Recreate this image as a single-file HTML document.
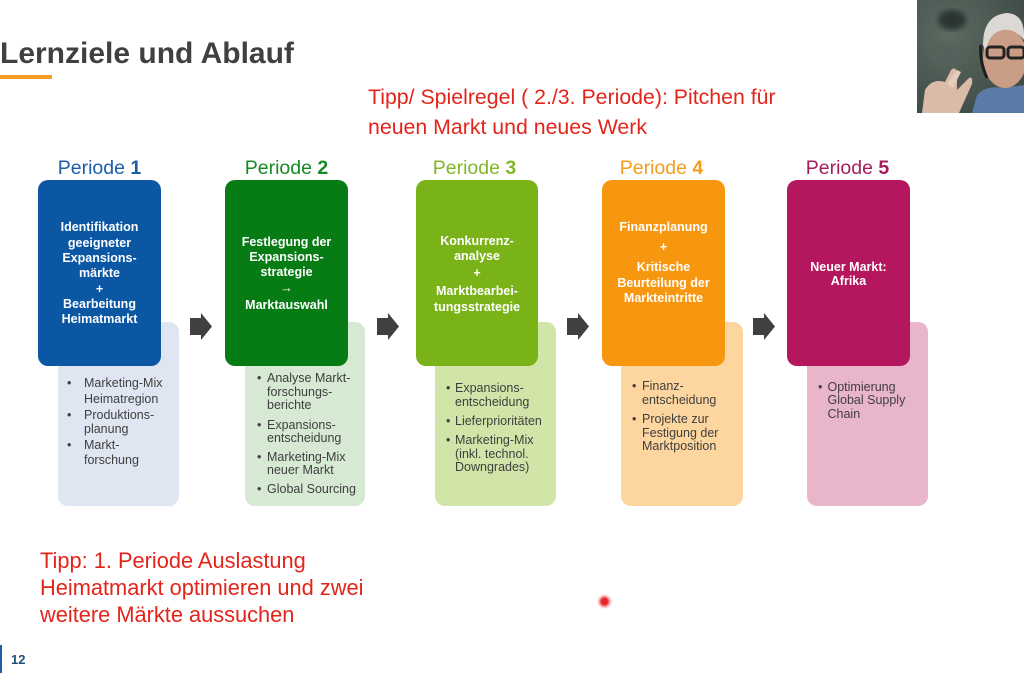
<!DOCTYPE html>
<html><head><meta charset="utf-8">
<style>
*{margin:0;padding:0;box-sizing:border-box}
html,body{width:1024px;height:683px;background:#fff;overflow:hidden}
body{position:relative;font-family:"Liberation Sans",Arial,sans-serif}
.a{position:absolute}
.box{position:absolute;border-radius:10px}
.ph{position:absolute;font-size:19.5px;line-height:22px;text-align:center;white-space:nowrap}
.ph b{font-weight:bold}
.m{position:absolute;height:16px;line-height:16px;text-align:center;color:#fff;font-weight:bold;font-size:12.5px;white-space:nowrap}
.l{position:absolute;height:16px;line-height:16px;color:#3f3f3f;font-size:12.5px;white-space:nowrap}
.red{position:absolute;color:#e3241b;white-space:nowrap}
</style></head><body>

<!-- Title -->
<div class="a" style="left:0;top:37px;font-size:30px;font-weight:bold;color:#404040;line-height:34px;white-space:nowrap">Lernziele und Ablauf</div>
<div class="a" style="left:0;top:75px;width:52px;height:4px;background:#f39c1f"></div>

<!-- Top tip -->
<div class="red" style="left:368px;top:82px;font-size:21.3px;line-height:30px">Tipp/ Spielregel ( 2./3. Periode): Pitchen für<br>neuen Markt und neues Werk</div>

<!-- Webcam -->
<svg class="a" style="left:917px;top:0" width="107" height="113" viewBox="0 0 107 113">
<defs>
<radialGradient id="bg" cx="0.3" cy="0.3" r="0.9"><stop offset="0" stop-color="#5d6a62"/><stop offset="0.6" stop-color="#48554f"/><stop offset="1" stop-color="#3a4642"/></radialGradient>
<filter id="bl"><feGaussianBlur stdDeviation="3"/></filter>
</defs>
<rect width="107" height="113" fill="url(#bg)"/>
<ellipse cx="35" cy="20" rx="14" ry="10" fill="#2c3430" filter="url(#bl)"/>
<ellipse cx="30" cy="55" rx="16" ry="12" fill="#55625c" filter="url(#bl)"/>
<path d="M55 113 L60 95 Q70 85 85 88 L107 85 L107 113 Z" fill="#5a7ba6"/>
<ellipse cx="88" cy="58" rx="22" ry="30" fill="#c99d86"/>
<path d="M66 45 Q66 15 90 13 Q107 14 107 35 L107 40 Q95 25 80 32 Q70 38 69 52 Z" fill="#dcd8d3"/>
<rect x="70" y="47" width="17" height="11" rx="3" fill="none" stroke="#222" stroke-width="3"/>
<rect x="91" y="47" width="16" height="11" rx="3" fill="none" stroke="#222" stroke-width="3"/>
<path d="M64 45 Q62 60 70 78" stroke="#1d1d1d" stroke-width="3" fill="none"/>
<path d="M5 113 L8 90 Q15 78 28 82 L34 70 Q38 66 40 72 L40 90 L52 78 Q56 76 55 84 L42 113 Z" fill="#d9bba8"/>
<path d="M30 84 L40 70 L44 72 L36 88 Z" fill="#e6cdbd"/>
</svg>

<!-- Period headers -->
<div class="ph" style="left:38px;width:123px;top:157px;color:#1d5ea8">Periode <b>1</b></div>
<div class="ph" style="left:225px;width:123px;top:157px;color:#168a26">Periode <b>2</b></div>
<div class="ph" style="left:413px;width:123px;top:157px;color:#82b72b">Periode <b>3</b></div>
<div class="ph" style="left:600px;width:123px;top:157px;color:#f59c1d">Periode <b>4</b></div>
<div class="ph" style="left:786px;width:123px;top:157px;color:#a81c5b">Periode <b>5</b></div>

<!-- Light boxes -->
<div class="box" style="left:58px;top:322px;width:121px;height:184px;background:#dfe6f2"></div>
<div class="box" style="left:245px;top:322px;width:120px;height:184px;background:#d5e9d3"></div>
<div class="box" style="left:435px;top:322px;width:121px;height:184px;background:#d2e5a8"></div>
<div class="box" style="left:621px;top:322px;width:122px;height:184px;background:#fdd59e"></div>
<div class="box" style="left:807px;top:322px;width:121px;height:184px;background:#e8b5ca"></div>

<!-- Main boxes -->
<div class="box" style="left:38px;top:180px;width:123px;height:186px;background:#0b57a4"></div>
<div class="box" style="left:225px;top:180px;width:123px;height:186px;background:#077c14"></div>
<div class="box" style="left:416px;top:180px;width:122px;height:186px;background:#7ab317"></div>
<div class="box" style="left:602px;top:180px;width:123px;height:186px;background:#f7960f"></div>
<div class="box" style="left:787px;top:180px;width:123px;height:186px;background:#b4175d"></div>

<!-- Arrows -->
<svg class="a" style="left:0;top:0" width="1024" height="683">
<g fill="#404040">
<polygon points="190,318 201,318 201,313 212,326.5 201,340 201,335 190,335"/>
<polygon points="377,318 388,318 388,313 399,326.5 388,340 388,335 377,335"/>
<polygon points="567,318 578,318 578,313 589,326.5 578,340 578,335 567,335"/>
<polygon points="753,318 764,318 764,313 775,326.5 764,340 764,335 753,335"/>
</g>
</svg>

<!-- P1 main text -->
<div class="m" style="left:38px;width:123px;top:219px">Identifikation</div>
<div class="m" style="left:38px;width:123px;top:234.5px">geeigneter</div>
<div class="m" style="left:38px;width:123px;top:250px">Expansions-</div>
<div class="m" style="left:38px;width:123px;top:265px">märkte</div>
<div class="m" style="left:38px;width:123px;top:280.5px">+</div>
<div class="m" style="left:38px;width:123px;top:296px">Bearbeitung</div>
<div class="m" style="left:38px;width:123px;top:310.5px">Heimatmarkt</div>

<!-- P2 main text -->
<div class="m" style="left:225px;width:123px;top:233.5px">Festlegung der</div>
<div class="m" style="left:225px;width:123px;top:249px">Expansions-</div>
<div class="m" style="left:225px;width:123px;top:264px">strategie</div>
<div class="m" style="left:225px;width:123px;top:280px">→</div>
<div class="m" style="left:225px;width:123px;top:297px">Marktauswahl</div>

<!-- P3 main text -->
<div class="m" style="left:416px;width:122px;top:232.5px">Konkurrenz-</div>
<div class="m" style="left:416px;width:122px;top:248px">analyse</div>
<div class="m" style="left:416px;width:122px;top:265px">+</div>
<div class="m" style="left:416px;width:122px;top:282.5px">Marktbearbei-</div>
<div class="m" style="left:416px;width:122px;top:298.5px">tungsstrategie</div>

<!-- P4 main text -->
<div class="m" style="left:602px;width:123px;top:219px">Finanzplanung</div>
<div class="m" style="left:602px;width:123px;top:239px">+</div>
<div class="m" style="left:602px;width:123px;top:259px">Kritische</div>
<div class="m" style="left:602px;width:123px;top:274.5px">Beurteilung der</div>
<div class="m" style="left:602px;width:123px;top:289.5px">Markteintritte</div>

<!-- P5 main text -->
<div class="m" style="left:787px;width:123px;top:258.5px">Neuer Markt:</div>
<div class="m" style="left:787px;width:123px;top:273px">Afrika</div>

<!-- P1 light text -->
<div class="l" style="left:67px;top:375px">•</div>
<div class="l" style="left:84px;top:375px">Marketing-Mix</div>
<div class="l" style="left:84px;top:391px">Heimatregion</div>
<div class="l" style="left:67px;top:407px">•</div>
<div class="l" style="left:84px;top:407px">Produktions-</div>
<div class="l" style="left:84px;top:421px">planung</div>
<div class="l" style="left:67px;top:437px">•</div>
<div class="l" style="left:84px;top:437px">Markt-</div>
<div class="l" style="left:84px;top:452px">forschung</div>

<!-- P2 light text -->
<div class="l" style="left:257px;top:370px">•</div>
<div class="l" style="left:267px;top:370px">Analyse Markt-</div>
<div class="l" style="left:267px;top:383.5px">forschungs-</div>
<div class="l" style="left:267px;top:397px">berichte</div>
<div class="l" style="left:257px;top:417px">•</div>
<div class="l" style="left:267px;top:417px">Expansions-</div>
<div class="l" style="left:267px;top:430px">entscheidung</div>
<div class="l" style="left:257px;top:448.5px">•</div>
<div class="l" style="left:267px;top:448.5px">Marketing-Mix</div>
<div class="l" style="left:267px;top:461.5px">neuer Markt</div>
<div class="l" style="left:257px;top:480.5px">•</div>
<div class="l" style="left:267px;top:480.5px">Global Sourcing</div>

<!-- P3 light text -->
<div class="l" style="left:446px;top:380px">•</div>
<div class="l" style="left:455px;top:380px">Expansions-</div>
<div class="l" style="left:455px;top:393.5px">entscheidung</div>
<div class="l" style="left:446px;top:413px">•</div>
<div class="l" style="left:455px;top:413px">Lieferprioritäten</div>
<div class="l" style="left:446px;top:432px">•</div>
<div class="l" style="left:455px;top:432px">Marketing-Mix</div>
<div class="l" style="left:455px;top:446px">(inkl. technol.</div>
<div class="l" style="left:455px;top:459px">Downgrades)</div>

<!-- P4 light text -->
<div class="l" style="left:632px;top:378px">•</div>
<div class="l" style="left:642px;top:378px">Finanz-</div>
<div class="l" style="left:642px;top:391.5px">entscheidung</div>
<div class="l" style="left:632px;top:410.5px">•</div>
<div class="l" style="left:642px;top:410.5px">Projekte zur</div>
<div class="l" style="left:642px;top:424.5px">Festigung der</div>
<div class="l" style="left:642px;top:438px">Marktposition</div>

<!-- P5 light text -->
<div class="l" style="left:818px;top:378.5px">•</div>
<div class="l" style="left:827.5px;top:378.5px">Optimierung</div>
<div class="l" style="left:827.5px;top:392px">Global Supply</div>
<div class="l" style="left:827.5px;top:405.5px">Chain</div>

<!-- Bottom tip -->
<div class="red" style="left:40px;top:547px;font-size:21.8px;line-height:27px">Tipp: 1. Periode Auslastung<br>Heimatmarkt optimieren und zwei<br>weitere Märkte aussuchen</div>

<!-- Red pointer dot -->
<div class="a" style="left:597px;top:594px;width:15px;height:15px;border-radius:50%;background:radial-gradient(circle,#e8262a 0,#e8262a 30%,rgba(240,80,80,0.45) 50%,rgba(255,255,255,0) 72%)"></div>

<!-- Page number -->
<div class="a" style="left:0;top:645px;width:2px;height:28px;background:#1f5ea8"></div>
<div class="a" style="left:11px;top:652px;font-size:13px;font-weight:bold;color:#1f4e79;line-height:16px">12</div>

</body></html>
